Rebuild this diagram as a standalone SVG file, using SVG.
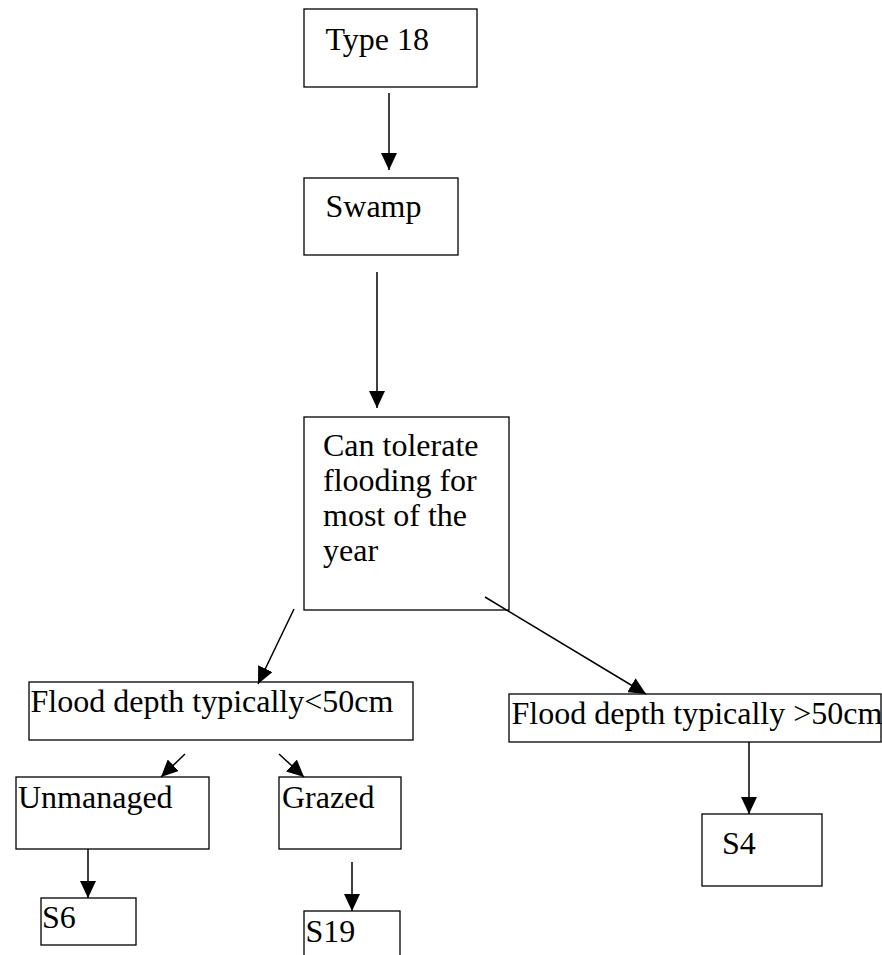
<svg xmlns="http://www.w3.org/2000/svg" width="882" height="955" viewBox="0 0 882 955">
<style>
.box{fill:#fff;stroke:#000;stroke-width:1.3}
.t{font-family:"Liberation Serif","Times New Roman",serif;font-size:32px;fill:#000}
.c{stroke:#000;stroke-width:1.5;fill:none;marker-end:url(#ah)}
</style>
<defs>
<marker id="ah" markerUnits="userSpaceOnUse" markerWidth="17" markerHeight="16" viewBox="0 0 17 16" refX="17" refY="8" orient="auto">
<path d="M0,0 L17,8 L0,16 z" fill="#000"/>
</marker>
</defs>
<rect width="882" height="955" fill="#fff"/>
<g id="type18">
<rect class="box" x="304" y="9" width="173" height="78"/>
<text class="t" x="325.5" y="50">Type 18</text>
</g>
<g id="swamp">
<rect class="box" x="304" y="178" width="154" height="77"/>
<text class="t" x="325.5" y="217">Swamp</text>
</g>
<g id="tolerate">
<rect class="box" x="304" y="417" width="205" height="193"/>
<text class="t" x="323" y="456">Can tolerate</text>
<text class="t" x="323" y="491">flooding for</text>
<text class="t" x="323" y="526">most of the</text>
<text class="t" x="323" y="561">year</text>
</g>
<g id="shallow">
<rect class="box" x="29" y="682" width="384" height="58"/>
<text class="t" x="30.5" y="712">Flood depth typically&lt;50cm</text>
</g>
<g id="deep">
<rect class="box" x="509" y="694" width="372" height="48"/>
<text class="t" x="511.5" y="724">Flood depth typically &gt;50cm</text>
</g>
<g id="unmanaged">
<rect class="box" x="16" y="777" width="193" height="72"/>
<text class="t" x="18" y="808">Unmanaged</text>
</g>
<g id="grazed">
<rect class="box" x="279" y="777" width="122" height="72"/>
<text class="t" x="282" y="808">Grazed</text>
</g>
<g id="s4">
<rect class="box" x="702" y="814" width="120" height="72"/>
<text class="t" x="722" y="854">S4</text>
</g>
<g id="s6">
<rect class="box" x="41" y="898" width="95" height="47"/>
<text class="t" x="42" y="928">S6</text>
</g>
<g id="s19">
<rect class="box" x="304" y="911" width="96" height="60"/>
<text class="t" x="305.5" y="942">S19</text>
</g>
<g id="connectors">
<line class="c" x1="389" y1="93" x2="389" y2="170"/>
<line class="c" x1="377" y1="272" x2="377" y2="408"/>
<line class="c" x1="294" y1="609" x2="258" y2="684"/>
<line class="c" x1="485" y1="597" x2="646" y2="694"/>
<line class="c" x1="185" y1="754" x2="161" y2="777"/>
<line class="c" x1="279" y1="754" x2="304" y2="777"/>
<line class="c" x1="88" y1="849" x2="88" y2="898"/>
<line class="c" x1="352" y1="862" x2="352" y2="911"/>
<line class="c" x1="749" y1="742" x2="749" y2="814"/>
</g>
</svg>
